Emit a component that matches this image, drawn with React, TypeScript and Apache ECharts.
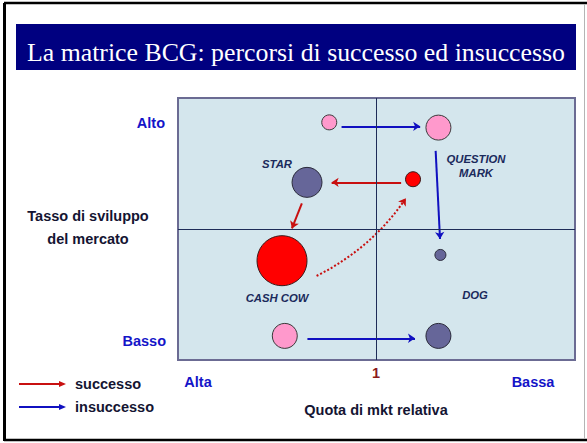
import React, { useEffect, useRef } from "react";
import * as echarts from "echarts";

// ---- data ----
const TITLE = "La matrice BCG: percorsi di successo ed insuccesso";
const Y_AXIS_TITLE = ["Tasso di sviluppo", "del mercato"];
const X_AXIS_TITLE = "Quota di mkt relativa";
const X_TICKS = ["Alta", "1", "Bassa"];
const Y_TICKS = ["Alto", "Basso"];
const QUADRANTS = ["STAR", "QUESTION\nMARK", "CASH COW", "DOG"];
const LEGEND = ["successo", "insuccesso"];

// bubbles: [x, y, size]
const pinkBubbles: number[][] = [
  [38.1, 90.7, 15],
  [65.6, 88.7, 25],
  [26.9, 9.2, 25],
];
const navyBubbles: number[][] = [
  [32.5, 67.8, 30],
  [66.1, 40.1, 11],
  [65.6, 9.2, 25],
];
const redBubbles: number[][] = [
  [59.2, 69.0, 15],
  [26.2, 37.9, 50],
];

// arrows: [[x1,y1],[x2,y2]]
const failArrows: number[][][] = [
  [[41.2, 89.2], [61.0, 89.2]],
  [[64.9, 79.8], [66.0, 46.2]],
  [[32.6, 8.3], [59.7, 8.3]],
];
const successArrows: number[][][] = [
  [[56.2, 67.8], [38.7, 67.8]],
  [[31.2, 59.8], [28.7, 50.2]],
];
const successCurve: number[][][] = [[[34.9, 32.1], [57.4, 61.7]]];

const SANS = "'Liberation Sans', Arial, sans-serif";
const SERIF = "'Liberation Serif', 'Times New Roman', serif";

export default function App() {
  const ref = useRef<HTMLDivElement>(null);
  useEffect(() => {
    if (!ref.current) return;
    const chart = echarts.init(ref.current, undefined, { renderer: "svg" });
    const navyText = "#1b2a5c";
    const blue = "#1414c8";
    const darkText = "#141432";
    const quadLabel = (t: string, x: number, y: number) => ({
      type: "text",
      x,
      y,
      style: {
        text: t,
        fill: navyText,
        fontFamily: SANS,
        fontWeight: "bold",
        fontStyle: "italic",
        fontSize: 11.3,
        textAlign: "center",
        textVerticalAlign: "middle",
        lineHeight: 14,
      },
    });
    const plainText = (t: string, x: number, y: number, color: string, size: number, align = "center") => ({
      type: "text",
      x,
      y,
      style: {
        text: t,
        fill: color,
        fontFamily: SANS,
        fontWeight: "bold",
        fontSize: size,
        textAlign: align,
        textVerticalAlign: "middle",
      },
    });
    const legendArrow = (y: number, color: string) => [
      { type: "line", shape: { x1: 19, y1: y, x2: 61, y2: y }, style: { stroke: color, lineWidth: 2 } },
      { type: "polygon", shape: { points: [[59, y - 3], [66, y], [59, y + 3]] }, style: { fill: color } },
    ];
    const option: any = {
      animation: false,
      backgroundColor: "#ffffff",
      grid: {
        left: 178,
        top: 98,
        width: 397,
        height: 262,
        show: true,
        backgroundColor: "#d4e6ed",
        borderColor: "#6b6b93",
        borderWidth: 2,
      },
      xAxis: { type: "value", min: 0, max: 100, show: false },
      yAxis: { type: "value", min: 0, max: 100, show: false },
      series: [
        {
          type: "scatter",
          data: [],
          silent: true,
          markLine: {
            silent: true,
            symbol: "none",
            label: { show: false },
            lineStyle: { color: "#1e2c58", width: 1, type: "solid" },
            data: [{ xAxis: 50 }, { yAxis: 50 }],
          },
        },
        {
          type: "lines",
          coordinateSystem: "cartesian2d",
          symbol: ["none", "arrow"],
          symbolSize: 7,
          lineStyle: { color: "#1010c0", width: 2, opacity: 1 },
          data: failArrows.map((c) => ({ coords: c })),
        },
        {
          type: "lines",
          coordinateSystem: "cartesian2d",
          symbol: ["none", "arrow"],
          symbolSize: 7,
          lineStyle: { color: "#c81010", width: 2, opacity: 1 },
          data: successArrows.map((c) => ({ coords: c })),
        },
        {
          type: "lines",
          coordinateSystem: "cartesian2d",
          symbol: ["none", "arrow"],
          symbolSize: 7,
          lineStyle: { color: "#c81010", width: 2, opacity: 1, type: [2, 2], curveness: -0.13 },
          data: successCurve.map((c) => ({ coords: c })),
        },
        {
          type: "scatter",
          data: pinkBubbles,
          symbolSize: (v: number[]) => v[2],
          itemStyle: { color: "#ff99cc", borderColor: "#3a3a3a", borderWidth: 1, opacity: 1 },
        },
        {
          type: "scatter",
          data: navyBubbles,
          symbolSize: (v: number[]) => v[2],
          itemStyle: { color: "#666699", borderColor: "#2a2a3a", borderWidth: 1, opacity: 1 },
        },
        {
          type: "scatter",
          data: redBubbles,
          symbolSize: (v: number[]) => v[2],
          itemStyle: { color: "#ff0000", borderColor: "#3a1a1a", borderWidth: 1, opacity: 1 },
        },
      ],
      graphic: [
        // outer frame
        { type: "line", shape: { x1: 4, y1: 3, x2: 587, y2: 3 }, style: { stroke: "#000", lineWidth: 2.5 } },
        { type: "line", shape: { x1: 4.5, y1: 3, x2: 4.5, y2: 441 }, style: { stroke: "#000", lineWidth: 3 } },
        { type: "line", shape: { x1: 4, y1: 440, x2: 587, y2: 440 }, style: { stroke: "#000", lineWidth: 2.5 } },
        { type: "line", shape: { x1: 584.5, y1: 4, x2: 584.5, y2: 439 }, style: { stroke: "#b4b4b4", lineWidth: 1 } },
        // title bar
        { type: "rect", shape: { x: 16, y: 24, width: 560, height: 46 }, style: { fill: "#000080" } },
        {
          type: "text",
          x: 296,
          y: 52,
          style: {
            text: TITLE,
            fill: "#ffffff",
            fontFamily: SERIF,
            fontSize: 25.8,
            textAlign: "center",
            textVerticalAlign: "middle",
          },
        },
        // quadrant labels
        quadLabel(QUADRANTS[0], 277, 164),
        quadLabel(QUADRANTS[1], 476, 166),
        quadLabel(QUADRANTS[2], 277, 298),
        quadLabel(QUADRANTS[3], 475, 295),
        // axis ticks
        plainText(X_TICKS[0], 198, 382, blue, 14.5),
        plainText(X_TICKS[1], 376, 373, "#8b1a1a", 14.5),
        plainText(X_TICKS[2], 533, 382, blue, 14.5),
        plainText(Y_TICKS[0], 165, 123, blue, 14.5, "right"),
        plainText(Y_TICKS[1], 166, 341, blue, 14.5, "right"),
        // axis titles
        plainText(X_AXIS_TITLE, 376, 410, darkText, 14.5),
        plainText(Y_AXIS_TITLE[0], 88, 216, darkText, 14.5),
        plainText(Y_AXIS_TITLE[1], 88, 239, darkText, 14.5),
        // legend
        ...legendArrow(384, "#c81010"),
        ...legendArrow(407, "#1010c0"),
        plainText(LEGEND[0], 75, 384, darkText, 14.5, "left"),
        plainText(LEGEND[1], 75, 407, darkText, 14.5, "left"),
      ],
    };
    chart.setOption(option);
    return () => chart.dispose();
  }, []);
  return (
    <div
      ref={ref}
      style={{ position: "absolute", left: 0, top: 0, width: 587, height: 443, background: "#fff" }}
    />
  );
}
